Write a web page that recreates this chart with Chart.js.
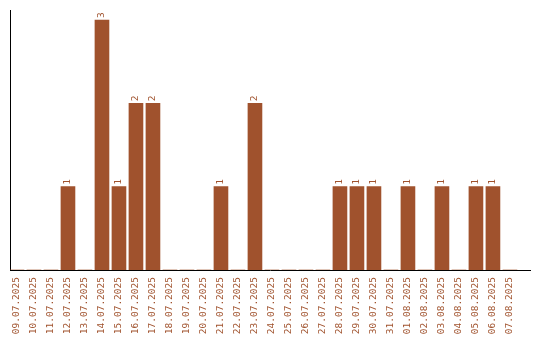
<!DOCTYPE html>
<html>
<head>
<meta charset="utf-8">
<script src="https://cdn.jsdelivr.net/npm/chart.js@4"></script>
<style>
    html, body { margin: 0; padding: 0; background: #fff; }
    #wrap { width: 540px; height: 340px; }
</style>
</head>
<body>
<div id="wrap"><canvas id="daily-chart" width="540" height="340"></canvas></div>
<script>
const dateLabels = [
    '09.07.2025', '10.07.2025', '11.07.2025', '12.07.2025', '13.07.2025',
    '14.07.2025', '15.07.2025', '16.07.2025', '17.07.2025', '18.07.2025',
    '19.07.2025', '20.07.2025', '21.07.2025', '22.07.2025', '23.07.2025',
    '24.07.2025', '25.07.2025', '26.07.2025', '27.07.2025', '28.07.2025',
    '29.07.2025', '30.07.2025', '31.07.2025', '01.08.2025', '02.08.2025',
    '03.08.2025', '04.08.2025', '05.08.2025', '06.08.2025', '07.08.2025',
];
const dailyCounts = [
    0, 0, 0, 1, 0,
    3, 1, 2, 2, 0,
    0, 0, 1, 0, 2,
    0, 0, 0, 0, 1,
    1, 1, 0, 1, 0,
    1, 0, 1, 1, 0,
];

const BAR_COLOR = '#A0522D';
const FONT_FAMILY = '"DejaVu Sans Mono", "Liberation Mono", monospace';

// draws the small rotated count above each non-empty bar
const valueLabels = {
    id: 'valueLabels',
    afterDatasetsDraw(chart) {
        const ctx = chart.ctx;
        const meta = chart.getDatasetMeta(0);
        ctx.save();
        ctx.fillStyle = BAR_COLOR;
        ctx.font = `9.5px ${FONT_FAMILY}`;
        ctx.textAlign = 'left';
        ctx.textBaseline = 'middle';
        meta.data.forEach((bar, i) => {
            const value = dailyCounts[i];
            if (!value) {
                return;
            }
            ctx.save();
            ctx.translate(bar.x, bar.y - 2);
            ctx.rotate(-Math.PI / 2);
            ctx.fillText(String(value), 0, 0);
            ctx.restore();
        });
        ctx.restore();
    },
};

const DailyChart = {
    chart: null,

    init() {
        const canvas = document.getElementById('daily-chart');
        this.chart = new Chart(canvas, {
            type: 'bar',
            data: {
                datasets: [{
                    data: dailyCounts.map((value, i) => ({ x: i, y: value })),
                    backgroundColor: BAR_COLOR,
                    borderWidth: 0,
                    barThickness: 14,
                }],
            },
            options: {
                responsive: false,
                animation: false,
                layout: { padding: { top: 10, left: 10, right: 10, bottom: 0 } },
                plugins: {
                    legend: { display: false },
                    tooltip: { enabled: false },
                },
                scales: {
                    x: {
                        type: 'linear',
                        offset: false,
                        min: -0.41,
                        max: 30.18,
                        grid: { display: false, drawTicks: false },
                        border: { display: true, color: '#000', width: 1 },
                        afterBuildTicks: scale => {
                            scale.ticks = dateLabels.map((_, i) => ({ value: i }));
                        },
                        afterFit: scale => {
                            scale.height = 70;
                        },
                        ticks: {
                            autoSkip: false,
                            maxRotation: 90,
                            minRotation: 90,
                            padding: 7,
                            color: BAR_COLOR,
                            font: { family: FONT_FAMILY, size: 9.5 },
                            callback: value => dateLabels[value] || '',
                        },
                    },
                    y: {
                        min: 0,
                        max: 3.12,
                        grid: { display: false, drawTicks: false },
                        border: { display: true, color: '#000', width: 1 },
                        ticks: { display: false },
                    },
                },
            },
            plugins: [valueLabels],
        });
    },
};

DailyChart.init();
</script>
</body>
</html>
